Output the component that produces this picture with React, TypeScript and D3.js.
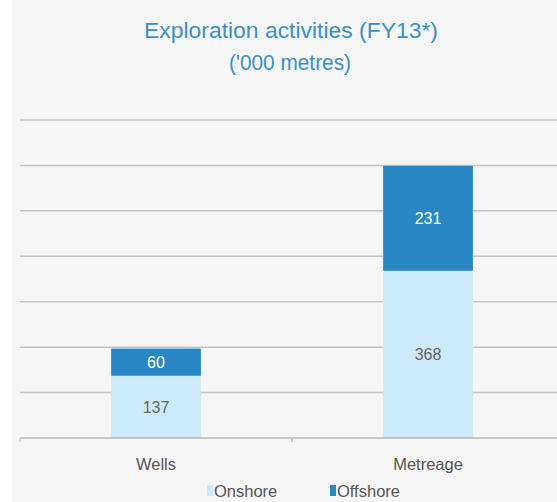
import React from "react";
import * as d3 from "d3";

const categories = ["Wells", "Metreage"];
const onshore = [137, 368];
const offshore = [60, 231];
const seriesNames = ["Onshore", "Offshore"];
const yTicks = [0, 100, 200, 300, 400, 500, 600, 700];

const W = 557, H = 502;
const colors = { Onshore: "#cdeafb", Offshore: "#2a87c5" };

export default function App() {
  const x = d3.scaleBand().domain(categories).range([20, 564]).paddingInner(0).paddingOuter(0);
  const y = d3.scaleLinear().domain([0, 700]).range([438, 120]);
  const bw = x.bandwidth() * 0.33;
  const stack = d3.stack<any>().keys(seriesNames)(
    categories.map((c, i) => ({ cat: c, Onshore: onshore[i], Offshore: offshore[i] }))
  );
  const font = "'Liberation Sans', Arial, sans-serif";
  return (
    <svg width={W} height={H} style={{ position: "absolute", left: 0, top: 0, display: "block" }}>
      <rect x={0} y={0} width={W} height={H} fill="#ffffff" />
      <rect x={12} y={0} width={W - 12} height={H} fill="#f6f6f6" />
      <text x={291} y={38} textAnchor="middle" fontFamily={font} fontSize={22} fill="#3a90c6"
        textLength={294} lengthAdjust="spacingAndGlyphs">Exploration activities (FY13*)</text>
      <text x={290} y={70} textAnchor="middle" fontFamily={font} fontSize={22} fill="#3a90c6"
        textLength={122} lengthAdjust="spacingAndGlyphs">('000 metres)</text>
      {yTicks.slice(1).map((t) => (
        <line key={t} x1={20} x2={W} y1={y(t)} y2={y(t)} stroke="#c4c4c4" strokeWidth={1.5} />
      ))}
      {stack.map((s) =>
        s.map((d, i) => {
          const cx = (x(categories[i]) as number) + x.bandwidth() / 2;
          const y0 = y(d[0]), y1 = y(d[1]);
          const val = d[1] - d[0];
          const isOff = s.key === "Offshore";
          return (
            <g key={s.key + i}>
              <rect x={cx - bw / 2} y={y1} width={bw} height={y0 - y1} fill={(colors as any)[s.key]} />
              <text x={cx} y={(y0 + y1) / 2 + 6} textAnchor="middle" fontFamily={font} fontSize={16}
                fill={isOff ? "#ffffff" : "#666666"}>{val}</text>
            </g>
          );
        })
      )}
      <line x1={20} x2={W} y1={y(0)} y2={y(0)} stroke="#b8b8b8" strokeWidth={1.5} />
      {categories.map((c) => (
        <line key={"tk" + c} x1={x(c) as number} x2={x(c) as number} y1={y(0)} y2={y(0) + 4} stroke="#b8b8b8" />
      ))}
      <line x1={292} x2={292} y1={y(0)} y2={y(0) + 4} stroke="#b8b8b8" />
      {categories.map((c) => (
        <text key={"l" + c} x={(x(c) as number) + x.bandwidth() / 2} y={470} textAnchor="middle"
          fontFamily={font} fontSize={16.5} fill="#555555">{c}</text>
      ))}
      {seriesNames.map((n, i) => {
        const lx = i === 0 ? 207 : 330;
        return (
          <g key={n}>
            <rect x={lx} y={485} width={6} height={11} fill={(colors as any)[n]} />
            <text x={lx + 7} y={497} fontFamily={font} fontSize={16.5} fill="#555555">{n}</text>
          </g>
        );
      })}
    </svg>
  );
}
